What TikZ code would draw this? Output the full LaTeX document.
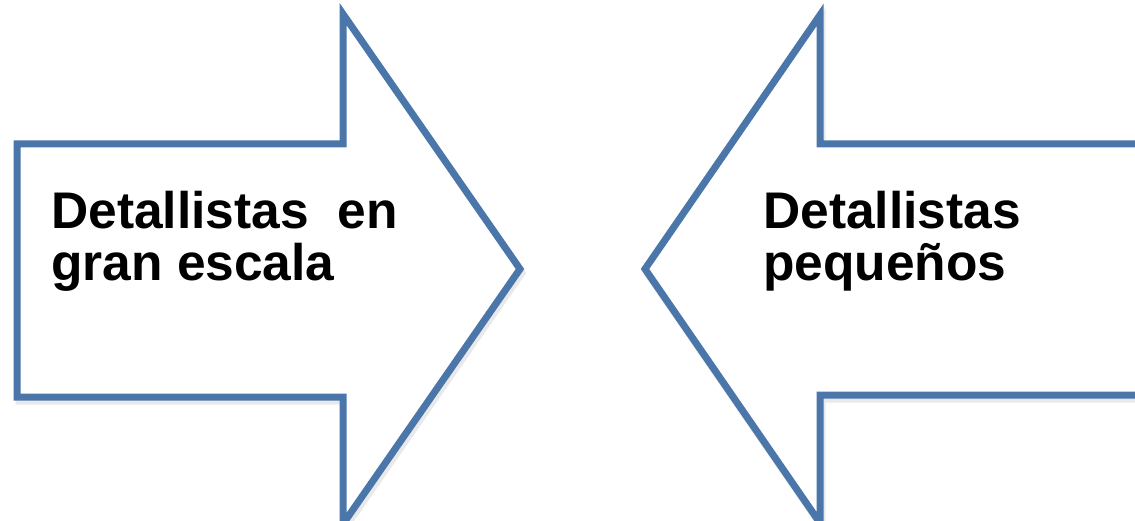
\documentclass[tikz,border=0pt]{standalone}
\usepackage{fontspec}
\setmainfont{Liberation Sans}
\definecolor{arrowblue}{RGB}{74,118,170}
\begin{document}
\begin{tikzpicture}[x=1pt,y=-1pt,
  arrowshape/.style={draw=arrowblue,line width=7pt,fill=white,line join=miter},
  shadowshape/.style={draw=black!25,line width=7pt,opacity=0.35},
  label/.style={anchor=base west,inner sep=0pt,align=left,font=\bfseries\fontsize{51.5}{54}\selectfont}]
\useasboundingbox (0,0) rectangle (1135,521);
% shadows
\draw[shadowshape,shift={(2,4)}] (17,144) -- (343,144) -- (343,14) -- (520,269) -- (343,524) -- (343,397) -- (17,397) -- cycle;
\draw[shadowshape,shift={(2,4)}] (1145,144) -- (820,144) -- (820,15) -- (645,269) -- (820,523) -- (820,395) -- (1145,395);
% arrows
\draw[arrowshape] (17,144) -- (343,144) -- (343,14) -- (520,269) -- (343,524) -- (343,397) -- (17,397) -- cycle;
\draw[arrowshape] (1145,144) -- (820,144) -- (820,15) -- (645,269) -- (820,523) -- (820,395) -- (1145,395);
% texts
\node[label] (l1) at (51,229) {Detallistas\ \ en};
\node[label] (l2) at (51,281) {gran escala};
\node[label] (r1) at (763,229) {Detallistas};
\node[label] (r2) at (763,281) {pequeños};
\end{tikzpicture}
\end{document}
